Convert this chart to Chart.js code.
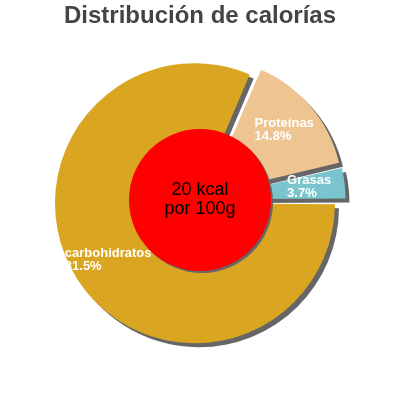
<!DOCTYPE html>
<html>
<head>
<meta charset="utf-8">
<script src="https://cdn.jsdelivr.net/npm/chart.js@4/dist/chart.umd.min.js"></script>
<style>
  html, body { margin: 0; padding: 0; background: #fff; }
  #wrap { width: 400px; height: 400px; }
</style>
</head>
<body>
<div id="wrap"><canvas id="chart" width="400" height="400"></canvas></div>
<script>
// datos
const categorias = ["carbohidratos", "Proteínas", "Grasas"];
const porcentajes = [81.5, 14.8, 3.7];
const colores = ["#DAA520", "#EEC591", "#7AC5CD"];
const energia = "20 kcal";
const porcion = "por 100g";

const FONT = "'Liberation Sans', Arial, sans-serif";

// sombra gris dura bajo cada porcion
const sombra = {
  id: "sombra",
  beforeDatasetDraw(chart) {
    const ctx = chart.ctx;
    ctx.save();
    ctx.shadowColor = "#666666";
    ctx.shadowOffsetX = 4;
    ctx.shadowOffsetY = 4;
    ctx.shadowBlur = 0;
  },
  afterDatasetDraw(chart) {
    chart.ctx.restore();
  }
};

// circulo rojo central + etiquetas blancas
const etiquetas = {
  id: "etiquetas",
  afterDatasetsDraw(chart) {
    const ctx = chart.ctx;
    const meta = chart.getDatasetMeta(0);
    const first = meta.data[0];
    const cx = first.x, cy = first.y;
    const R = first.outerRadius;

    ctx.save();
    ctx.shadowColor = "#666666";
    ctx.shadowOffsetX = 2;
    ctx.shadowOffsetY = 2;
    ctx.beginPath();
    ctx.arc(cx, cy, R * 0.53, 0, Math.PI * 2);
    ctx.fillStyle = "#FF0000";
    ctx.fill();
    ctx.restore();

    ctx.save();
    ctx.fillStyle = "#000";
    ctx.font = "18px " + FONT;
    ctx.textAlign = "center";
    ctx.textBaseline = "middle";
    ctx.fillText(energia, cx, cy - 10);
    ctx.fillText(porcion, cx, cy + 9);

    ctx.font = "bold 13px " + FONT;
    ctx.fillStyle = "#fff";
    ctx.textAlign = "left";
    meta.data.forEach((arc, i) => {
      const mid = (arc.startAngle + arc.endAngle) / 2;
      const r = R * 0.82;
      const lx = cx + Math.cos(mid) * r;
      const ly = cy + Math.sin(mid) * r;
      const lines = [categorias[i], porcentajes[i].toFixed(1) + "%"];
      const w = Math.max(...lines.map(t => ctx.measureText(t).width));
      const left = lx - w / 2;
      ctx.fillText(lines[0], left, ly - 6.5);
      ctx.fillText(lines[1], left, ly + 6.5);
    });
    ctx.restore();
  }
};

new Chart(document.getElementById("chart"), {
  type: "pie",
  data: {
    labels: categorias,
    datasets: [{
      data: porcentajes,
      backgroundColor: colores,
      borderWidth: 0,
      offset: [24, 36, 26],
      radius: 134
    }]
  },
  options: {
    responsive: false,
    animation: false,
    rotation: 90,
    layout: { padding: { bottom: 40.8 } },
    plugins: {
      legend: { display: false },
      tooltip: { enabled: false },
      title: {
        display: true,
        text: "Distribución de calorías",
        color: "#444444",
        font: { family: FONT, size: 24, weight: "bold" },
        padding: { top: 2, bottom: 10 }
      }
    }
  },
  plugins: [sombra, etiquetas]
});
</script>
</body>
</html>
